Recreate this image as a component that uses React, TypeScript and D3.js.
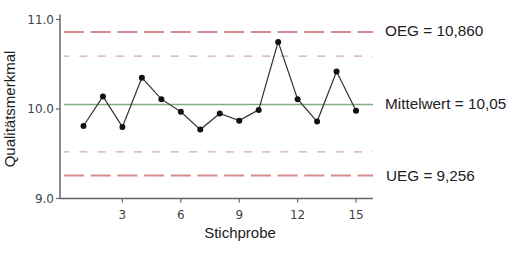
import React from "react";
import * as d3 from "d3";

const samples = [1, 2, 3, 4, 5, 6, 7, 8, 9, 10, 11, 12, 13, 14, 15];
const values = [9.81, 10.14, 9.8, 10.35, 10.11, 9.97, 9.77, 9.95, 9.87, 9.99, 10.75, 10.11, 9.86, 10.42, 9.98];
const xTicks = [3, 6, 9, 12, 15];
const yTicks = [9.0, 10.0, 11.0];
const limits = { oeg: 10.86, mean: 10.05, ueg: 9.256, upperWarn: 10.59, lowerWarn: 9.52 };
const limitLabels = ["OEG = 10,860", "Mittelwert = 10,05", "UEG = 9,256"];

export default function App() {
  const W = 511, H = 253;
  const x = d3.scaleLinear().domain([0, 16]).range([64, 375.5]);
  const y = d3.scaleLinear().domain([9, 11]).range([198.5, 19.5]);
  const axisLeft = 60, axisRight = 373;
  const lineStart = 64, lineEnd = 373;
  const line = d3.line<number>().x((_, i) => x(samples[i])).y((v) => y(v));
  const sans = "'Liberation Sans', Arial, sans-serif";
  const tickFont = "'DejaVu Sans', sans-serif";
  const axisColor = "#666";
  return (
    <svg width={W} height={H} style={{ position: "absolute", left: 0, top: 0, background: "#fff" }}>
      <rect width={W} height={H} fill="#fff" />
      {/* reference lines */}
      <line x1={lineStart} x2={lineEnd} y1={y(limits.oeg)} y2={y(limits.oeg)} stroke="#d38c8e" strokeWidth={2} strokeDasharray="20 6.7" />
      <line x1={lineStart} x2={lineEnd} y1={y(limits.ueg)} y2={y(limits.ueg)} stroke="#d38c8e" strokeWidth={2} strokeDasharray="20 6.7" />
      <line x1={lineStart} x2={lineEnd} y1={y(limits.upperWarn)} y2={y(limits.upperWarn)} stroke="#dba5a7" strokeWidth={1.3} strokeDasharray="8 10.3" strokeDashoffset={3} />
      <line x1={lineStart} x2={lineEnd} y1={y(limits.lowerWarn)} y2={y(limits.lowerWarn)} stroke="#dba5a7" strokeWidth={1.3} strokeDasharray="8 10.3" strokeDashoffset={3} />
      <line x1={lineStart} x2={lineEnd} y1={y(limits.mean)} y2={y(limits.mean)} stroke="#7bb07b" strokeWidth={1.5} />
      {/* axes */}
      <line x1={axisLeft} x2={axisLeft} y1={y(11) - 5} y2={y(9)} stroke={axisColor} strokeWidth={1.5} />
      <line x1={axisLeft} x2={axisRight} y1={y(9)} y2={y(9)} stroke={axisColor} strokeWidth={1.5} />
      {yTicks.map((t) => (
        <g key={t}>
          <line x1={axisLeft - 4} x2={axisLeft} y1={y(t)} y2={y(t)} stroke={axisColor} strokeWidth={1.2} />
          <text x={axisLeft - 6} y={y(t)} dy="0.35em" textAnchor="end" fontFamily={tickFont} fontSize={12} fill="#444">
            {t.toFixed(1)}
          </text>
        </g>
      ))}
      {xTicks.map((t) => (
        <g key={t}>
          <line x1={x(t)} x2={x(t)} y1={y(9)} y2={y(9) + 4} stroke={axisColor} strokeWidth={1.2} />
          <text x={x(t)} y={y(9) + 20} textAnchor="middle" fontFamily={tickFont} fontSize={12} fill="#444">
            {t}
          </text>
        </g>
      ))}
      {/* data */}
      <path d={line(values) || ""} fill="none" stroke="#333" strokeWidth={1.2} />
      {values.map((v, i) => (
        <circle key={i} cx={x(samples[i])} cy={y(v)} r={3} fill="#111" />
      ))}
      {/* axis titles */}
      <text x={240} y={238} textAnchor="middle" fontFamily={sans} fontSize={15} fill="#222">Stichprobe</text>
      <text transform={`translate(15,109) rotate(-90)`} textAnchor="middle" fontFamily={sans} fontSize={15} fill="#222">Qualitätsmerkmal</text>
      {/* limit labels */}
      <text x={385} y={36} fontFamily={sans} fontSize={15.3} fill="#222">{limitLabels[0]}</text>
      <text x={385} y={108.5} fontFamily={sans} fontSize={15.3} fill="#222">{limitLabels[1]}</text>
      <text x={386} y={181} fontFamily={sans} fontSize={15.3} fill="#222">{limitLabels[2]}</text>
    </svg>
  );
}
